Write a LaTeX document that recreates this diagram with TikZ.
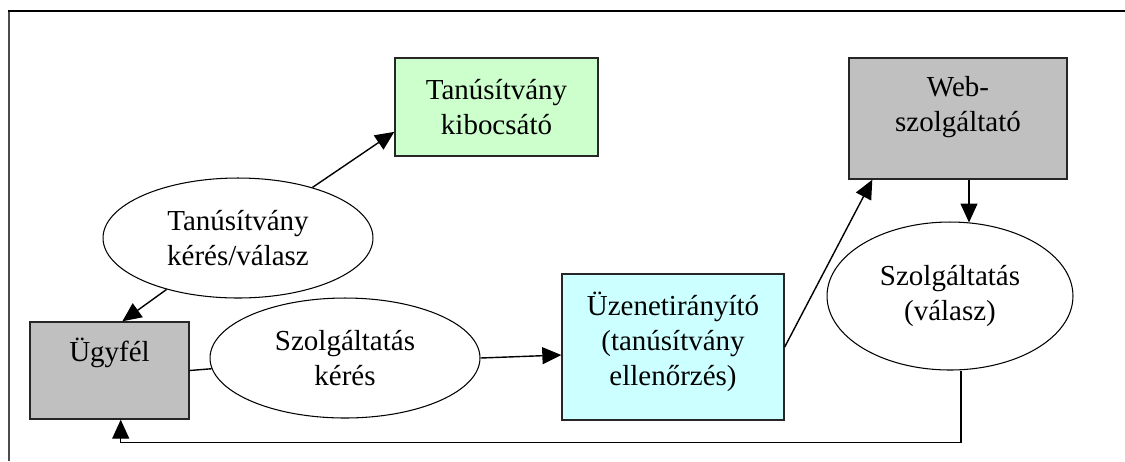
\documentclass[tikz,border=0pt]{standalone}
\usepackage{fontspec}
\setmainfont{Liberation Serif}
\usetikzlibrary{arrows.meta,calc,shapes.geometric}
\definecolor{szurke}{RGB}{192,192,192}
\definecolor{zold}{RGB}{204,255,204}
\definecolor{cian}{RGB}{204,255,255}

\begin{document}
\begin{tikzpicture}[x=0.02cm,y=-0.02cm,
    font=\fontsize{16.5pt}{20pt}\selectfont,
    doboz/.style={draw=black!85,line width=0.8pt,rectangle,inner sep=0pt},
    tojas/.style={draw,line width=0.6pt,ellipse,align=center,inner sep=0pt,fill=white},
    nyil/.style={line width=0.8pt,-{Triangle[length=0.38cm,width=0.34cm]}}]
    \useasboundingbox (0,0) rectangle (1125,461);
    \draw[line width=1.3pt,black!70] (9,461) -- (9,11);
    \draw[line width=1.1pt] (8,11) -- (1125,11);
    \node[doboz,fill=szurke,minimum width=3.18cm,minimum height=1.94cm,
        text height=0.78cm,text depth=1.16cm] (ugyfel) at (109.5,370.5) {Ügyfél};
    \node[doboz,align=center,fill=zold,minimum width=4.06cm,minimum height=1.96cm] (kibocsato) at (496.5,107) {Tanúsítvány\\kibocsátó};
    \node[doboz,align=center,fill=szurke,minimum width=4.36cm,minimum height=2.42cm] (web) at (958,118.5) {Web-\\szolgáltató\rule[-0.6cm]{0pt}{0pt}};
    \node[doboz,align=center,fill=cian,minimum width=4.44cm,minimum height=2.92cm] (uzenet) at (673,347) {Üzenetirányító\\(tanúsítvány\\ellenőrzés)\rule[-0.34cm]{0pt}{0pt}};
    \node[tojas,minimum width=5.4cm,minimum height=2.4cm] (tkeres) at (238,238) {Tanúsítvány\\kérés/válasz};
    \node[tojas,minimum width=5.4cm,minimum height=2.4cm] (szkeres) at (345,358) {Szolgáltatás\\kérés};
    \node[tojas,minimum width=4.92cm,minimum height=2.96cm] (valasz) at (950,296) {Szolgáltatás\\(válasz)};
    \draw[nyil] (tkeres) -- ($(kibocsato.west)!0.5!(kibocsato.south west)$);
    \draw[nyil] (tkeres) -- ($(ugyfel.north west)!0.58!(ugyfel.north east)$);
    \draw[line width=0.8pt] (ugyfel.east) -- (szkeres);
    \draw[nyil] (szkeres.east) -- ($(uzenet.west)+(0,8)$);
    \draw[nyil] (uzenet.east) -- ($(web.south west)+(24,0)$);
    \draw[nyil] ($(web.south)+(11,0)$) -- ($(valasz.north)+(19,1)$);
    \draw[nyil] ($(valasz.south)+(11,0)$) -- ++(0,72) -| ($(ugyfel.south west)!0.57!(ugyfel.south east)$);
\end{tikzpicture}
\end{document}
